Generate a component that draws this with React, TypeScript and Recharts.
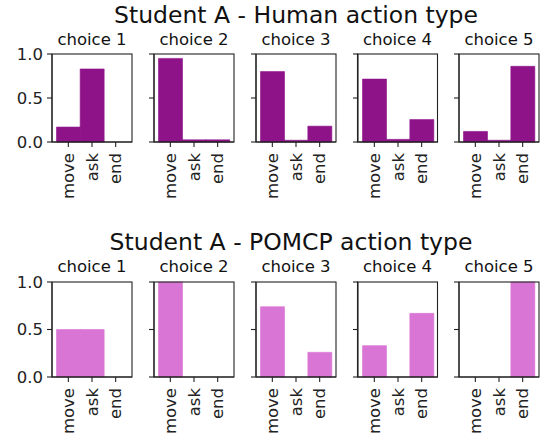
import { BarChart, Bar, XAxis, YAxis } from 'recharts'

const categories = ['move', 'ask', 'end']
const choiceLabels = ['choice 1', 'choice 2', 'choice 3', 'choice 4', 'choice 5']

// share of each action type per choice
const humanMove = [0.17, 0.95, 0.8, 0.715, 0.12]
const humanAsk = [0.83, 0.025, 0.02, 0.03, 0.02]
const humanEnd = [0, 0.025, 0.18, 0.255, 0.86]

const pomcpMove = [0.5, 1, 0.74, 0.33, 0]
const pomcpAsk = [0.5, 0, 0, 0, 0]
const pomcpEnd = [0, 0, 0.26, 0.67, 1]

const yTicks = [0, 0.5, 1]

const FONT = '"DejaVu Sans", sans-serif'
const INK = '#222'
const PANEL_LEFT = [52, 154, 256, 357.5, 459]
const PANEL_W = 80
const Y_W = 48
const X_H = 70
const M_TOP = 12
const M_RIGHT = 2

const rows = [
  {
    title: 'Student A - Human action type',
    titleX: 296,
    titleY: 22.7,
    subY: 45,
    top: 54,
    plotH: 88,
    color: '#8e1389',
    move: humanMove,
    ask: humanAsk,
    end: humanEnd,
  },
  {
    title: 'Student A - POMCP action type',
    titleX: 291,
    titleY: 250,
    subY: 271.7,
    top: 282,
    plotH: 95,
    color: '#d975d5',
    move: pomcpMove,
    ask: pomcpAsk,
    end: pomcpEnd,
  },
]

const RotatedTick = (props: any) => {
  const { x, y, payload } = props
  return (
    <text
      x={x}
      y={y}
      transform={`rotate(-90 ${x} ${y})`}
      textAnchor="end"
      dy="0.35em"
      fontSize={16.5}
      fontFamily={FONT}
      fill={INK}
    >
      {payload.value}
    </text>
  )
}

function Panel({ row, i }: { row: (typeof rows)[number]; i: number }) {
  const values = [row.move[i], row.ask[i], row.end[i]]
  const data = categories.map((cat, k) => ({ cat, v: values[k] }))
  const width = Y_W + PANEL_W + M_RIGHT
  const height = M_TOP + row.plotH + X_H
  return (
    <div style={{ position: 'absolute', left: PANEL_LEFT[i] - Y_W, top: row.top - M_TOP }}>
      <BarChart
        width={width}
        height={height}
        data={data}
        margin={{ top: M_TOP, right: M_RIGHT, bottom: 0, left: 0 }}
        barCategoryGap={0}
        barGap={0}
      >
        <XAxis
          dataKey="cat"
          height={X_H}
          padding={{ left: 4.5, right: 4.5 }}
          tickSize={5}
          tickMargin={6}
          tick={<RotatedTick />}
          interval={0}
          axisLine={{ stroke: INK, strokeWidth: 1.1 }}
          tickLine={{ stroke: INK, strokeWidth: 1.1 }}
        />
        <YAxis
          width={Y_W}
          domain={[0, 1]}
          ticks={yTicks}
          interval={0}
          tickSize={5}
          tickMargin={4}
          tickFormatter={(v: number) => (i === 0 ? v.toFixed(1) : '')}
          tick={{ fontSize: 16.5, fontFamily: FONT, fill: INK }}
          axisLine={{ stroke: INK, strokeWidth: 1.1 }}
          tickLine={{ stroke: INK, strokeWidth: 1.1 }}
        />
        <Bar
          dataKey="v"
          fill={row.color}
          stroke={row.color}
          strokeWidth={0.6}
          isAnimationActive={false}
        />
      </BarChart>
    </div>
  )
}

export default function App() {
  return (
    <div
      style={{
        position: 'absolute',
        left: 0,
        top: 0,
        width: 544,
        height: 439,
        background: '#fff',
        fontFamily: FONT,
      }}
    >
      {rows.map((row, r) =>
        choiceLabels.map((_, i) => <Panel key={`${r}-${i}`} row={row} i={i} />)
      )}
      <svg
        width={544}
        height={439}
        style={{ position: 'absolute', left: 0, top: 0, pointerEvents: 'none' }}
      >
        {rows.map((row, r) => (
          <g key={r}>
            <text x={row.titleX} y={row.titleY} textAnchor="middle" fontSize={23.5} fontFamily={FONT} fill="#111">
              {row.title}
            </text>
            {choiceLabels.map((label, i) => (
              <g key={label}>
                {/* axes frame (top and right spines) */}
                <rect
                  x={PANEL_LEFT[i]}
                  y={row.top}
                  width={PANEL_W}
                  height={row.plotH}
                  fill="none"
                  stroke={INK}
                  strokeWidth={1.1}
                />
                <text
                  x={PANEL_LEFT[i] + PANEL_W / 2}
                  y={row.subY}
                  textAnchor="middle"
                  fontSize={16.5}
                  fontFamily={FONT}
                  fill="#111"
                >
                  {label}
                </text>
              </g>
            ))}
          </g>
        ))}
      </svg>
    </div>
  )
}
